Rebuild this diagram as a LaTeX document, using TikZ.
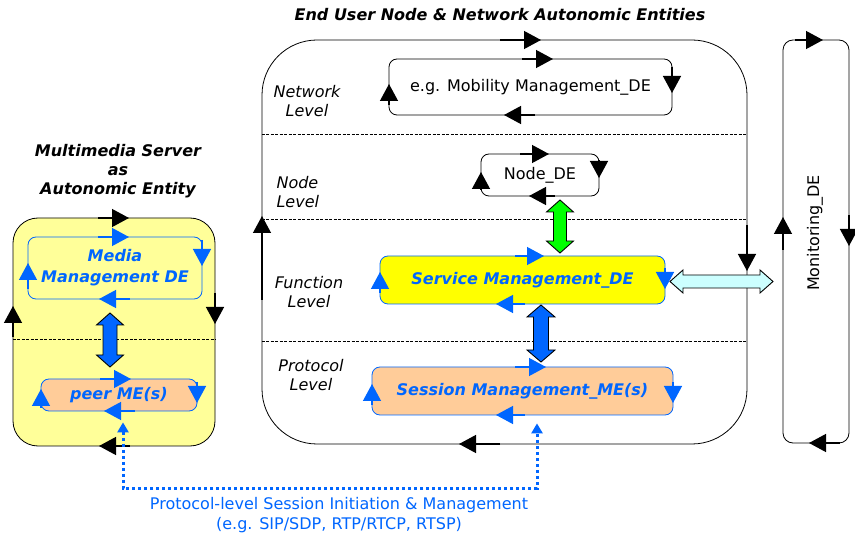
\documentclass[tikz,border=0pt]{standalone}
\usepackage{fontspec}
\setmainfont{DejaVu Sans}
\usetikzlibrary{arrows.meta}

\definecolor{mblue}{RGB}{0,102,255}
\definecolor{lyellow}{RGB}{255,255,153}
\definecolor{syellow}{RGB}{255,255,0}
\definecolor{peach}{RGB}{255,204,153}
\definecolor{lcyan}{RGB}{204,255,255}
\definecolor{lgreen}{RGB}{0,255,0}

\tikzset{
  titletext/.style={font=\fontsize{16}{19}\selectfont\bfseries\itshape, align=center},
  leveltext/.style={font=\fontsize{16}{18.5}\selectfont\itshape},
  blacktext/.style={font=\fontsize{16}{19.5}\selectfont},
  bluetext/.style={font=\fontsize{16}{21}\selectfont\bfseries\itshape, text=mblue, align=center},
  box/.style={draw=black, line width=0.8pt, inner sep=0pt},
  bluebox/.style={draw=mblue, line width=0.8pt, inner sep=0pt, rounded corners=8pt},
  blkbox/.style={draw=black, line width=0.8pt, inner sep=0pt, rounded corners=8pt},
  lvline/.style={draw=black, line width=0.6pt, dash pattern=on 3pt off 1.5pt},
  blkmark/.style={draw=black, line width=1.3pt, -{Triangle[length=17pt,width=18pt]}},
  bluemark/.style={draw=mblue, line width=1.3pt, -{Triangle[length=17pt,width=18pt]}},
  dotconn/.style={draw=mblue, line width=3pt, dash pattern=on 3pt off 3pt,
    {Triangle[length=10pt,width=11pt]}-{Triangle[length=10pt,width=11pt]}},
  % fat double arrow drawn along the y axis of the pic
  dblL/.store in=\dblL, dblL=54,
  dblW/.store in=\dblW, dblW=27,
  dblS/.store in=\dblS, dblS=14,
  dblH/.store in=\dblH, dblH=12,
  fatdbl/.pic={
    \path[pic actions]
      (0,-\dblL/2) -- (\dblW/2,-\dblL/2+\dblH) -- (\dblS/2,-\dblL/2+\dblH)
      -- (\dblS/2,\dblL/2-\dblH) -- (\dblW/2,\dblL/2-\dblH) -- (0,\dblL/2)
      -- (-\dblW/2,\dblL/2-\dblH) -- (-\dblS/2,\dblL/2-\dblH)
      -- (-\dblS/2,-\dblL/2+\dblH) -- (-\dblW/2,-\dblL/2+\dblH) -- cycle;
  },
  fatarrow/.style={draw=black, line width=0.9pt, line join=miter},
}

\begin{document}
\begin{tikzpicture}[x=1pt,y=-1pt]
\useasboundingbox (0,0) rectangle (855,537);

% ---------- titles ----------
\node[titletext] (ttl) at (500,15) {End User Node \& Network Autonomic Entities};
\node[titletext] (ttlms) at (118,171) {Multimedia Server\\as\\Autonomic Entity};

% ---------- multimedia server ----------
\node[box, fill=lyellow, rounded corners=25pt, minimum width=202pt, minimum height=228pt]
  (ms) at (114,332) {};
\draw[lvline] (ms.west |- 0,339) -- (ms.east |- 0,339);
\node[bluebox, minimum width=174pt, minimum height=62pt, bluetext] (media) at (115,268)
  {Media\\Management DE};
\node[bluebox, fill=peach, minimum width=156pt, minimum height=32pt, bluetext] (peer) at (119,395)
  {peer ME(s)};
\pic[fatarrow, fill=mblue, dblL=54, dblW=27, dblS=14, dblH=12] at (110,340) {fatdbl};

% loop markers of the server
\draw[blkmark] (98,218) -- (129,218);
\draw[blkmark] (215,293) -- (215,324);
\draw[blkmark] (130,446) -- (99,446);
\draw[blkmark] (13,337) -- (13,306);
\draw[bluemark] (98,237) -- (129,237);
\draw[bluemark] (202,240) -- (202,266);
\draw[bluemark] (130,299) -- (99,299);
\draw[bluemark] (28,289) -- (28,263);
\draw[bluemark] (100,379) -- (131,379);
\draw[bluemark] (197,382) -- (197,403);
\draw[bluemark] (135,411) -- (104,411);
\draw[bluemark] (41,408) -- (41,389);

% ---------- end user node ----------
\node[box, rounded corners=55pt, minimum width=485pt, minimum height=404pt] (eun) at (504.5,242) {};
\draw[lvline] (eun.west |- 0,134) -- (eun.east |- 0,134);
\draw[lvline] (eun.west |- 0,219) -- (eun.east |- 0,219);
\draw[lvline] (eun.west |- 0,341) -- (eun.east |- 0,341);

\node[leveltext, align=center] (lnet) at (307,101) {Network\\Level};
\node[leveltext, align=left, anchor=west] (lnode) at (273,192) {Node\\Level};
\node[leveltext, align=center] (lfun) at (309,292) {Function\\Level};
\node[leveltext, align=center] (lpro) at (311,375) {Protocol\\Level};

\node[blkbox, minimum width=283pt, minimum height=56pt, blacktext] (mob) at (530.5,87)
  {e.g. Mobility Management\_DE};
\node[blkbox, minimum width=118pt, minimum height=42pt, blacktext] (nde) at (540,175)
  {Node\_DE};
\node[bluebox, fill=syellow, minimum width=285pt, minimum height=48pt, bluetext] (svc) at (522.5,280)
  {Service Management\_DE};
\node[bluebox, fill=peach, minimum width=301pt, minimum height=48pt, bluetext] (sess) at (522.5,391)
  {Session Management\_ME(s)};

\pic[fatarrow, fill=lgreen, dblL=53, dblW=27, dblS=13, dblH=12] at (560,226.5) {fatdbl};
\pic[fatarrow, fill=mblue, dblL=57, dblW=28, dblS=15, dblH=12] at (541,333.5) {fatdbl};

% loop markers of the end user node
\draw[blkmark] (500,40) -- (541,40);
\draw[blkmark] (747,225) -- (747,271);
\draw[blkmark] (500,444) -- (459,444);
\draw[blkmark] (262,300) -- (262,216);
\draw[blkmark] (522,59) -- (553,59);
\draw[blkmark] (672,67) -- (672,93);
\draw[blkmark] (535,115) -- (504,115);
\draw[blkmark] (389,105) -- (389,84);
\draw[blkmark] (520,154) -- (549,154);
\draw[blkmark] (599,160) -- (599,178);
\draw[blkmark] (555,196) -- (529,196);
\draw[blkmark] (481,190) -- (481,172);
\draw[bluemark] (515,256) -- (544,256);
\draw[bluemark] (665,268) -- (665,289);
\draw[bluemark] (525,304) -- (496,304);
\draw[bluemark] (380,293) -- (380,272);
\draw[bluemark] (515,367) -- (546,367);
\draw[bluemark] (673,382) -- (673,403);
\draw[bluemark] (525,415) -- (496,415);
\draw[bluemark] (372,405) -- (372,384);

% ---------- monitoring ----------
\node[blkbox, rounded corners=10pt, minimum width=66pt, minimum height=403pt] (mon) at (816,241.5) {};
\node[blacktext, rotate=90] (monl) at (815,233) {Monitoring\_DE};
\draw[blkmark] (795,40) -- (823,40);
\draw[blkmark] (849,215) -- (849,246);
\draw[blkmark] (840,443) -- (809,443);
\draw[blkmark] (783,250) -- (783,217);

\pic[fatarrow, fill=lcyan, rotate=90, dblL=103, dblW=23, dblS=13, dblH=13] at (721.5,281.5) {fatdbl};

% ---------- protocol-level session link ----------
\draw[dotconn] ([xshift=4pt,yshift=-11pt]peer.south) -- ++(0,66) -| ([xshift=14.5pt,yshift=-8pt]sess.south);
\node[blacktext, text=mblue, align=center] (plabel) at (339,515)
  {Protocol-level Session Initiation \& Management\\(e.g. SIP/SDP, RTP/RTCP, RTSP)};
\end{tikzpicture}
\end{document}
